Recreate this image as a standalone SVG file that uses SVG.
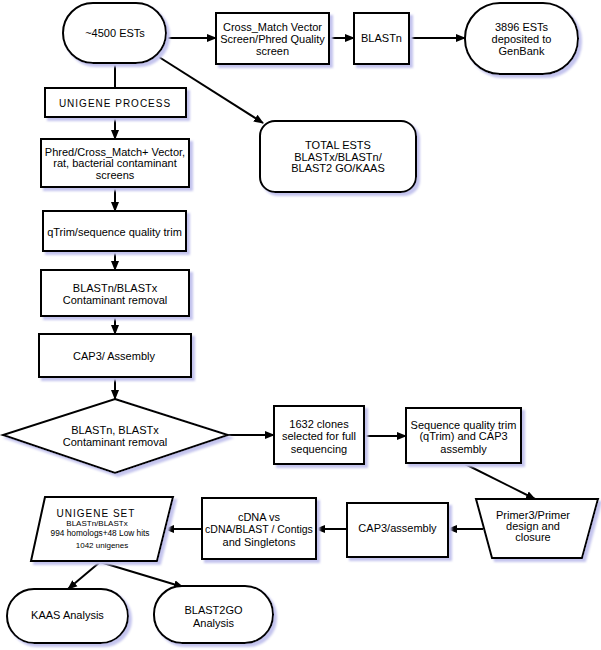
<svg xmlns="http://www.w3.org/2000/svg" width="601" height="650" viewBox="0 0 601 650">
<defs>
<filter id="sh" x="-10%" y="-10%" width="130%" height="130%">
<feDropShadow dx="3" dy="3" stdDeviation="0.8" flood-color="#c4c4ee" flood-opacity="1"/>
</filter>
<marker id="ah" markerUnits="userSpaceOnUse" markerWidth="10" markerHeight="10" viewBox="0 0 10 10" refX="9" refY="5" orient="auto">
<path d="M0,1 L10,5 L0,9 Z" fill="#000"/>
</marker>
</defs>
<style>
.s{fill:#fff;stroke:#000;stroke-width:2;filter:url(#sh)}
.t{font-family:"Liberation Sans",Arial,sans-serif;font-size:11px;fill:#000;text-anchor:middle}
.sm{font-size:8px}
.ls{letter-spacing:1px;font-size:10px}
.c line{stroke:#000;stroke-width:2}
.a{marker-end:url(#ah)}
</style>
<rect width="601" height="650" fill="#fff"/>

<g class="c">
<line x1="115" y1="63" x2="115" y2="88"/>
<line class="a" x1="168" y1="38" x2="216" y2="38"/>
<line class="a" x1="329" y1="38" x2="354" y2="38"/>
<line class="a" x1="409" y1="38" x2="465" y2="38"/>
<line class="a" x1="159" y1="57" x2="263" y2="123"/>
<line class="a" x1="115" y1="117" x2="115" y2="139"/>
<line class="a" x1="115" y1="187" x2="115" y2="211"/>
<line class="a" x1="115" y1="251" x2="115" y2="270"/>
<line class="a" x1="115" y1="316" x2="115" y2="334"/>
<line class="a" x1="115" y1="377" x2="115" y2="399"/>
<line class="a" x1="228" y1="435" x2="274" y2="435"/>
<line class="a" x1="364" y1="436" x2="406" y2="436"/>
<line class="a" x1="463" y1="463" x2="535" y2="499"/>
<line class="a" x1="483" y1="529" x2="448" y2="529"/>
<line class="a" x1="347" y1="529" x2="316" y2="529"/>
<line class="a" x1="202" y1="529" x2="165" y2="529"/>
<line class="a" x1="100" y1="562" x2="68" y2="589"/>
<line class="a" x1="100" y1="562" x2="183" y2="587"/>
</g>

<g id="n-ests4500">
<rect class="s" x="63" y="3" width="103" height="60" rx="30" ry="30"/>
<text class="t" x="115" y="37">~4500 ESTs</text>
</g>
<g id="n-crossmatch">
<rect class="s" x="216" y="13" width="113" height="51"/>
<text class="t" x="272.5" y="31">Cross_Match Vector</text>
<text class="t" x="272.5" y="43">Screen/Phred Quality</text>
<text class="t" x="272.5" y="55">screen</text>
</g>
<g id="n-blastn">
<rect class="s" x="354" y="13" width="55" height="51"/>
<text class="t" x="381.5" y="42">BLASTn</text>
</g>
<g id="n-ests3896">
<rect class="s" x="465" y="3" width="113" height="71" rx="35" ry="35"/>
<text class="t" x="521.5" y="31">3896 ESTs</text>
<text class="t" x="521.5" y="43">deposited to</text>
<text class="t" x="521.5" y="55">GenBank</text>
</g>
<g id="n-total">
<rect class="s" x="260" y="121" width="156" height="71" rx="15" ry="15"/>
<text class="t" x="338" y="149">TOTAL ESTS</text>
<text class="t" x="338" y="161">BLASTx/BLASTn/</text>
<text class="t" x="338" y="172">BLAST2 GO/KAAS</text>
</g>
<g id="n-unigeneprocess">
<rect class="s" x="45" y="88" width="141" height="29"/>
<text class="t ls" x="115" y="107">UNIGENE PROCESS</text>
</g>
<g id="n-phred">
<rect class="s" x="41" y="139" width="148" height="48"/>
<text class="t" x="115" y="156">Phred/Cross_Match+ Vector,</text>
<text class="t" x="115" y="167">rat, bacterial contaminant</text>
<text class="t" x="115" y="179">screens</text>
</g>
<g id="n-qtrim">
<rect class="s" x="43" y="211" width="143" height="40"/>
<text class="t" x="114.5" y="236">qTrim/sequence quality trim</text>
</g>
<g id="n-blastcont">
<rect class="s" x="41" y="270" width="148" height="46"/>
<text class="t" x="115" y="292">BLASTn/BLASTx</text>
<text class="t" x="115" y="304">Contaminant removal</text>
</g>
<g id="n-cap3">
<rect class="s" x="39" y="334" width="152" height="43"/>
<text class="t" x="114" y="360">CAP3/ Assembly</text>
</g>
<g id="n-diamond">
<polygon class="s" points="115,399 228,435 115,473 3,435"/>
<text class="t" x="115" y="434">BLASTn, BLASTx</text>
<text class="t" x="115" y="446">Contaminant removal</text>
</g>
<g id="n-1632">
<rect class="s" x="274" y="406" width="90" height="58"/>
<text class="t" x="319" y="428">1632 clones</text>
<text class="t" x="319" y="440">selected for full</text>
<text class="t" x="319" y="453">sequencing</text>
</g>
<g id="n-seqtrim">
<rect class="s" x="406" y="408" width="115" height="55"/>
<text class="t" x="463.5" y="429">Sequence quality trim</text>
<text class="t" x="463.5" y="440">(qTrim) and CAP3</text>
<text class="t" x="463.5" y="453">assembly</text>
</g>
<g id="n-primer">
<polygon class="s" points="476,499 598,499 582,558 492,558"/>
<text class="t" x="533" y="519">Primer3/Primer</text>
<text class="t" x="533" y="530">design and</text>
<text class="t" x="533" y="541">closure</text>
</g>
<g id="n-cap3asm">
<rect class="s" x="347" y="503" width="101" height="54"/>
<text class="t" x="397.5" y="532">CAP3/assembly</text>
</g>
<g id="n-cdna">
<rect class="s" x="202" y="498" width="114" height="61"/>
<text class="t" x="259" y="521">cDNA vs</text>
<text class="t" x="259" y="533" style="font-size:10.5px">cDNA/BLAST / Contigs</text>
<text class="t" x="259" y="546">and Singletons</text>
</g>
<g id="n-unigeneset">
<polygon class="s" points="45,497 173,497 157,561 31,561"/>
<text class="t ls" x="96" y="517">UNIGENE SET</text>
<text class="t sm" x="97" y="526">BLASTn/BLASTx</text>
<text class="t" x="100" y="536" style="font-size:8.3px">994 homologs+48 Low hits</text>
<text class="t sm" x="102" y="548">1042 unigenes</text>
</g>
<g id="n-kaas">
<rect class="s" x="7" y="589" width="121" height="54" rx="27" ry="27"/>
<text class="t" x="67.5" y="619">KAAS Analysis</text>
</g>
<g id="n-blast2go">
<rect class="s" x="154" y="586" width="119" height="57" rx="28" ry="28"/>
<text class="t" x="213.5" y="614">BLAST2GO</text>
<text class="t" x="213.5" y="627">Analysis</text>
</g>
</svg>
